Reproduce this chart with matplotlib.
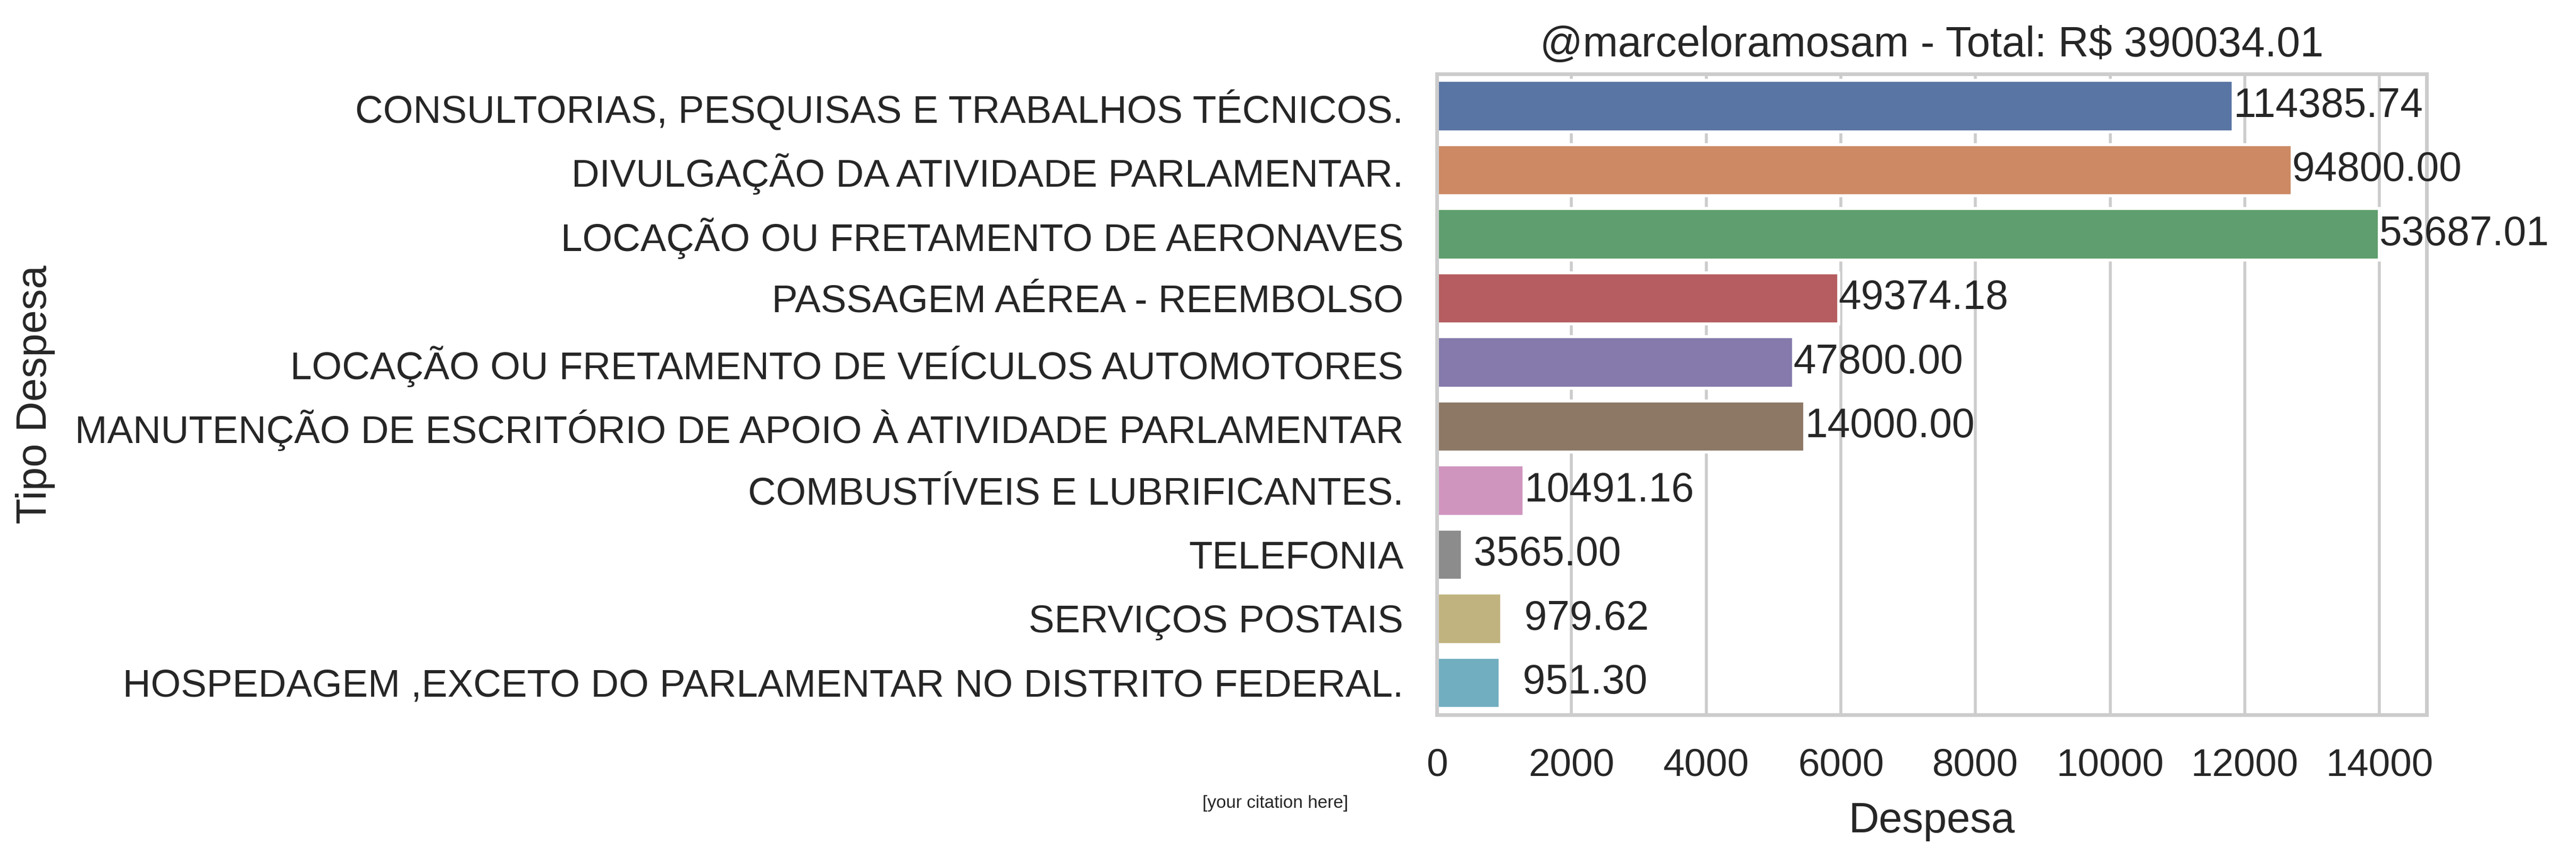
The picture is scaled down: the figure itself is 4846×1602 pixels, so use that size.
import matplotlib
matplotlib.use("Agg")
import matplotlib.pyplot as plt
import seaborn as sns

# categorias (tipo de despesa), de cima para baixo
tipos = [
    "CONSULTORIAS, PESQUISAS E TRABALHOS TÉCNICOS.",
    "DIVULGAÇÃO DA ATIVIDADE PARLAMENTAR.",
    "LOCAÇÃO OU FRETAMENTO DE AERONAVES",
    "PASSAGEM AÉREA - REEMBOLSO",
    "LOCAÇÃO OU FRETAMENTO DE VEÍCULOS AUTOMOTORES",
    "MANUTENÇÃO DE ESCRITÓRIO DE APOIO À ATIVIDADE PARLAMENTAR",
    "COMBUSTÍVEIS E LUBRIFICANTES.",
    "TELEFONIA",
    "SERVIÇOS POSTAIS",
    "HOSPEDAGEM ,EXCETO DO PARLAMENTAR NO DISTRITO FEDERAL.",
]
# comprimento das barras
despesa = [11830, 12700, 14000, 5965, 5295, 5465, 1295, 380, 965, 935]
# totais escritos ao lado das barras
totais = [114385.74, 94800.00, 53687.01, 49374.18, 47800.00,
          14000.00, 10491.16, 3565.00, 979.62, 951.30]
total_geral = 390034.01

sns.set_theme(style="whitegrid")
plt.rcParams['font.family'] = ['Liberation Sans', 'DejaVu Sans']

fig = plt.figure(figsize=(12.115, 4.005), dpi=400)
ax = fig.add_axes([0.5578, 0.161, 0.3842, 0.7522])

sns.barplot(x=despesa, y=tipos, hue=tipos, palette="deep", legend=False,
            orient="h", ax=ax)

for i, p in enumerate(ax.patches):
    w = p.get_width()
    ax.text(w, p.get_y() + p.get_height() / 2, '%8.2f' % totais[i],
            ha='left', va='center', fontsize=13.8, color='.15')

ax.set_title('@marceloramosam - Total: R$ %.2f' % total_geral, fontsize=14.3)
ax.set_xlabel('Despesa', fontsize=14.3, labelpad=6)
ax.set_ylabel('Tipo Despesa', fontsize=14.3)
ax.yaxis.set_label_coords(-1.396, 0.5)
ax.tick_params(axis='both', labelsize=13.1, length=7.1, pad=4.2)

fig.text(0.495, 0.057, '[your citation here]', fontsize=6, ha='center',
         va='center', color='.15')

fig.savefig('out.png', dpi=400)
